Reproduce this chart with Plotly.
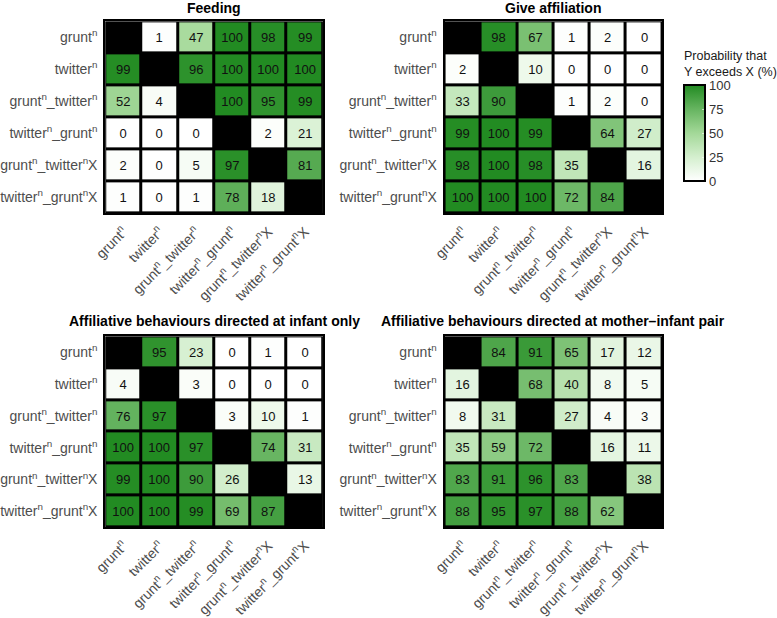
import plotly.graph_objects as go

categories = ["grunt<sup>n</sup>", "twitter<sup>n</sup>", "grunt<sup>n</sup>_twitter<sup>n</sup>",
              "twitter<sup>n</sup>_grunt<sup>n</sup>", "grunt<sup>n</sup>_twitter<sup>n</sup>X",
              "twitter<sup>n</sup>_grunt<sup>n</sup>X"]

N = None
feeding = [
    [N, 1, 47, 100, 98, 99],
    [99, N, 96, 100, 100, 100],
    [52, 4, N, 100, 95, 99],
    [0, 0, 0, N, 2, 21],
    [2, 0, 5, 97, N, 81],
    [1, 0, 1, 78, 18, N],
]
give_affiliation = [
    [N, 98, 67, 1, 2, 0],
    [2, N, 10, 0, 0, 0],
    [33, 90, N, 1, 2, 0],
    [99, 100, 99, N, 64, 27],
    [98, 100, 98, 35, N, 16],
    [100, 100, 100, 72, 84, N],
]
infant_only = [
    [N, 95, 23, 0, 1, 0],
    [4, N, 3, 0, 0, 0],
    [76, 97, N, 3, 10, 1],
    [100, 100, 97, N, 74, 31],
    [99, 100, 90, 26, N, 13],
    [100, 100, 99, 69, 87, N],
]
mother_infant = [
    [N, 84, 91, 65, 17, 12],
    [16, N, 68, 40, 8, 5],
    [8, 31, N, 27, 4, 3],
    [35, 59, 72, N, 16, 11],
    [83, 91, 96, 83, N, 38],
    [88, 95, 97, 88, 62, N],
]
titles = ["Feeding", "Give affiliation",
          "Affiliative behaviours directed at infant only",
          "Affiliative behaviours directed at mother\u2013infant pair"]
colorbar_ticks = [0, 25, 50, 75, 100]

W, H = 777, 618
panels = [
    (feeding, (92, 314), (22, 220), 14),
    (give_affiliation, (438, 660), (22, 220), 14),
    (infant_only, (92, 314), (347, 544), 16),
    (mother_infant, (438, 660), (347, 544), 16),
]

colorscale = [
    [0.0, "rgb(255,255,255)"],
    [0.25, "rgb(212,239,206)"],
    [0.5, "rgb(163,216,152)"],
    [0.75, "rgb(102,180,96)"],
    [1.0, "rgb(34,139,34)"],
]

FONT = "Liberation Sans, Arial, sans-serif"
fig = go.Figure()
layout = {}
annotations = []
for i, (z, (x0, x1), (y0, y1), tgap) in enumerate(panels):
    idx = "" if i == 0 else str(i + 1)
    fig.add_trace(go.Heatmap(
        z=z, x=categories, y=categories, texttemplate="%{z:.0f}",
        textfont=dict(color="#111111", size=13, family=FONT),
        coloraxis="coloraxis", xgap=3, ygap=3,
        xaxis="x" + idx, yaxis="y" + idx, hoverinfo="skip",
    ))
    axstyle = dict(showline=True, linewidth=2, linecolor="black", mirror=True,
                   showgrid=False, zeroline=False, ticks="outside", ticklen=3,
                   tickcolor="rgba(0,0,0,0)",
                   tickfont=dict(size=14, color="#4d4d4d", family=FONT))
    layout["xaxis" + idx] = dict(domain=[x0 / W, x1 / W], anchor="y" + idx,
                                 tickangle=-45, **axstyle)
    layout["yaxis" + idx] = dict(domain=[1 - y1 / H, 1 - y0 / H], anchor="x" + idx,
                                 autorange="reversed", **axstyle)
    annotations.append(dict(text="<b>" + titles[i] + "</b>", x=(x0 + x1) / 2 / W,
                            y=1 - (y0 - tgap) / H, xref="paper", yref="paper",
                            xanchor="center", yanchor="middle", showarrow=False,
                            font=dict(size=14, color="black", family=FONT)))

annotations.append(dict(text="Probability that<br>Y exceeds X (%)", x=680 / W, y=1 - 84 / H,
                        xref="paper", yref="paper", xanchor="left", yanchor="bottom",
                        align="left", showarrow=False,
                        font=dict(size=12.5, color="#1a1a1a", family=FONT)))

fig.update_layout(
    width=W, height=H, margin=dict(l=0, r=0, t=0, b=0),
    paper_bgcolor="white", plot_bgcolor="black",
    font=dict(family=FONT),
    coloraxis=dict(
        colorscale=colorscale, cmin=0, cmax=100,
        colorbar=dict(
            x=682 / W, xanchor="left", xpad=0, ypad=0,
            y=1 - 88 / H, yanchor="top", len=99 / H, lenmode="fraction",
            thickness=21, outlinewidth=2, outlinecolor="black",
            tickvals=colorbar_ticks, ticks="inside", ticklen=4, tickcolor="rgba(255,255,255,0.6)",
            tickfont=dict(size=13, color="#333333", family=FONT),
        ),
    ),
    annotations=annotations,
    **layout,
)
fig.write_html("out.html")
